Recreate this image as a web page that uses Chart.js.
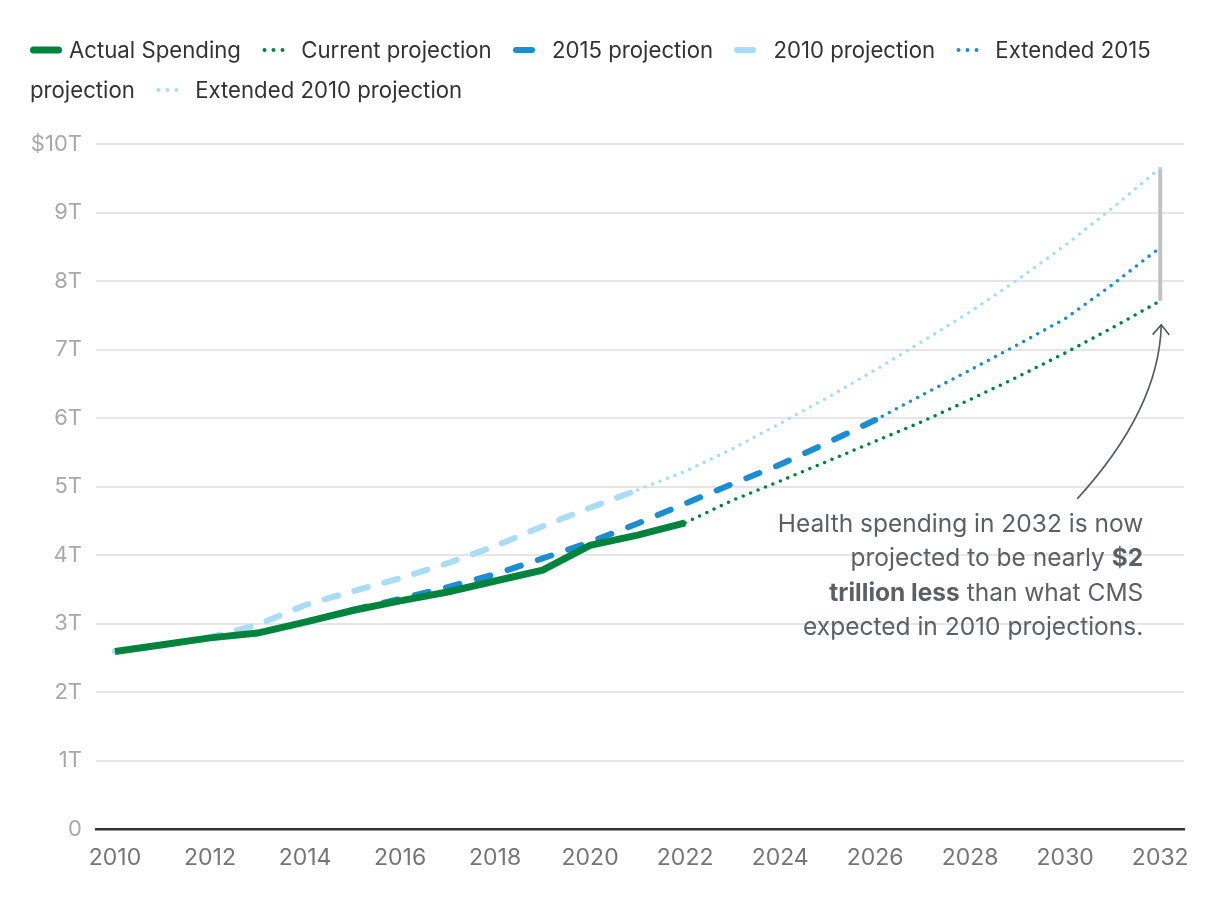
<!DOCTYPE html>
<html>
<head>
<meta charset="utf-8">
<script src="https://cdn.jsdelivr.net/npm/chart.js@4"></script>
<style>
html, body { margin: 0; padding: 0; background: #fff; }
#wrap { position: relative; width: 1220px; height: 900px; }
#chart { position: absolute; left: 0; top: 0; }
#legend { position: absolute; left: 30px; top: 30px; width: 1165px; font: 22.2px Inter, sans-serif; color: #333; line-height: 40px; }
#legend .item { margin-right: 15px; }
#legend svg { vertical-align: middle; margin-right: 7px; position: relative; top: -2px; }
</style>
</head>
<body>
<div id="wrap">
  <canvas id="chart" width="1220" height="900"></canvas>
  <div id="legend"></div>
</div>
<script>
// values in trillions of dollars
const actualYears = [2010, 2011, 2012, 2013, 2014, 2015, 2016, 2017, 2018, 2019, 2020, 2021, 2022];
const actualSpending = [2.59, 2.69, 2.79, 2.86, 3.02, 3.19, 3.33, 3.46, 3.62, 3.78, 4.14, 4.29, 4.47];

const currentYears = [2022, 2023, 2024, 2025, 2026, 2027, 2028, 2029, 2030, 2031, 2032];
const currentProjection = [4.47, 4.80, 5.08, 5.37, 5.66, 5.95, 6.27, 6.60, 6.95, 7.32, 7.71];

const proj2015Years = [2015, 2016, 2017, 2018, 2019, 2020, 2021, 2022, 2023, 2024, 2025, 2026];
const projection2015 = [3.20, 3.36, 3.53, 3.72, 3.95, 4.19, 4.46, 4.75, 5.04, 5.32, 5.64, 5.97];

const proj2010Years = [2010, 2011, 2012, 2013, 2014, 2015, 2016, 2017, 2018, 2019, 2020, 2021];
const projection2010 = [2.59, 2.69, 2.80, 2.98, 3.27, 3.47, 3.66, 3.88, 4.13, 4.42, 4.69, 4.95];

const ext2015Years = [2026, 2027, 2028, 2029, 2030, 2031, 2032];
const extended2015 = [5.97, 6.34, 6.70, 7.07, 7.45, 7.95, 8.49];

const ext2010Years = [2021, 2022, 2023, 2024, 2025, 2026, 2027, 2028, 2029, 2030, 2031, 2032];
const extended2010 = [4.95, 5.22, 5.55, 5.92, 6.30, 6.70, 7.12, 7.55, 8.02, 8.52, 9.07, 9.65];

const xTickYears = [2010, 2012, 2014, 2016, 2018, 2020, 2022, 2024, 2026, 2028, 2030, 2032];
const yTickValues = [0, 1, 2, 3, 4, 5, 6, 7, 8, 9, 10];

const annotationLines = [
  [['Health spending in 2032 is now', false]],
  [['projected to be nearly ', false], ['$2', true]],
  [['trillion less', true], [' than what CMS', false]],
  [['expected in 2010 projections.', false]]
];

const GREEN = '#00843d';
const BLUE = '#1a8ed0';
const LIGHT = '#a9dcf5';
const FONT = 'Inter, sans-serif';

function pts(xs, ys){ return xs.map((x, i) => ({ x, y: ys[i] })); }

function line(label, xs, ys, color, width, dash){
  return {
    label, data: pts(xs, ys),
    borderColor: color, backgroundColor: color,
    borderWidth: width, borderDash: dash,
    borderCapStyle: dash.length ? 'round' : 'butt',
    pointRadius: 0, tension: 0, fill: false
  };
}

// grey bracket at 2032 between the 2010 extension and the current projection
const gapBar = {
  id: 'gapBar',
  beforeDatasetsDraw(chart){
    const { ctx, scales: { x, y } } = chart;
    const px = x.getPixelForValue(2032);
    ctx.save();
    ctx.strokeStyle = '#c2c2c2';
    ctx.lineWidth = 4;
    ctx.beginPath();
    ctx.moveTo(px, y.getPixelForValue(extended2010[extended2010.length - 1]));
    ctx.lineTo(px, y.getPixelForValue(currentProjection[currentProjection.length - 1]));
    ctx.stroke();
    ctx.restore();
  }
};

const note = {
  id: 'note',
  afterDatasetsDraw(chart){
    const { ctx, scales: { x, y } } = chart;
    const tipX = x.getPixelForValue(2032) + 1;
    const tipY = y.getPixelForValue(currentProjection[currentProjection.length - 1]) + 24;
    ctx.save();
    // curved arrow
    ctx.strokeStyle = '#555a5e';
    ctx.lineWidth = 1.6;
    const p0 = { x: tipX - 84, y: tipY + 174 };
    const p1 = { x: tipX - 2, y: tipY + 84 };
    ctx.beginPath();
    ctx.moveTo(p0.x, p0.y);
    ctx.quadraticCurveTo(p1.x, p1.y, tipX, tipY);
    ctx.stroke();
    const ang = Math.atan2(tipY - p1.y, tipX - p1.x);
    const len = 13, spread = 0.7;
    ctx.beginPath();
    ctx.moveTo(tipX - len * Math.cos(ang - spread), tipY - len * Math.sin(ang - spread));
    ctx.lineTo(tipX, tipY);
    ctx.lineTo(tipX - len * Math.cos(ang + spread), tipY - len * Math.sin(ang + spread));
    ctx.stroke();

    // text, right aligned
    const right = x.getPixelForValue(2032) - 17;
    let cy = y.getPixelForValue(4.45);
    ctx.fillStyle = '#5b6064';
    ctx.textBaseline = 'middle';
    ctx.textAlign = 'left';
    for (const parts of annotationLines){
      let w = 0;
      const widths = parts.map(([t, b]) => {
        ctx.font = (b ? 'bold ' : '') + '24.5px ' + FONT;
        const m = ctx.measureText(t).width; w += m; return m;
      });
      let cx = right - w;
      parts.forEach(([t, b], i) => {
        ctx.font = (b ? 'bold ' : '') + '24.5px ' + FONT;
        ctx.fillText(t, cx, cy);
        cx += widths[i];
      });
      cy += 34.5;
    }
    ctx.restore();
  }
};

const chart = new Chart(document.getElementById('chart'), {
  type: 'line',
  data: {
    datasets: [
      line('Actual Spending', actualYears, actualSpending, GREEN, 7, []),
      line('Current projection', currentYears, currentProjection, GREEN, 3.6, [0, 8]),
      line('2015 projection', proj2015Years, projection2015, BLUE, 6, [14, 18]),
      line('2010 projection', proj2010Years, projection2010, LIGHT, 6, [14, 17]),
      line('Extended 2015 projection', ext2015Years, extended2015, BLUE, 3.6, [0, 8]),
      line('Extended 2010 projection', ext2010Years, extended2010, LIGHT, 3.6, [0, 8])
    ]
  },
  options: {
    responsive: false,
    animation: false,
    layout: { padding: { left: 0, right: 36, top: 144, bottom: 0 } },
    plugins: { legend: { display: false }, tooltip: { enabled: false } },
    scales: {
      x: {
        type: 'linear', min: 2009.6, max: 2032.5,
        afterBuildTicks: s => { s.ticks = xTickYears.map(v => ({ value: v })); },
        afterFit: s => { s.height = 71; },
        grid: { display: false, drawTicks: false },
        border: { display: true, color: '#333', width: 2.5 },
        ticks: { padding: 15, color: '#757575', font: { family: FONT, size: 23 }, maxRotation: 0, autoSkip: false, callback: v => String(v) }
      },
      y: {
        min: 0, max: 10,
        afterBuildTicks: s => { s.ticks = yTickValues.map(v => ({ value: v })); },
        afterFit: s => { s.width = 96; },
        grid: { color: '#e6e6e6', lineWidth: 2, drawTicks: false },
        border: { display: false },
        ticks: { padding: 14, color: '#a8a8a8', font: { family: FONT, size: 22 },
          callback: v => v === 0 ? '0' : (v === 10 ? '$10T' : v + 'T') }
      }
    }
  },
  plugins: [gapBar, note]
});

// html legend built from the datasets
const NS = 'http://www.w3.org/2000/svg';
const legendEl = document.getElementById('legend');
chart.data.datasets.forEach((ds, i) => {
  const item = document.createElement('span');
  item.className = 'item';
  const svg = document.createElementNS(NS, 'svg');
  svg.setAttribute('width', 32); svg.setAttribute('height', 12);
  const l = document.createElementNS(NS, 'line');
  l.setAttribute('y1', 6); l.setAttribute('y2', 6);
  l.setAttribute('stroke', ds.borderColor);
  l.setAttribute('stroke-linecap', 'round');
  if (!ds.borderDash.length){
    l.setAttribute('x1', 3.5); l.setAttribute('x2', 28.5); l.setAttribute('stroke-width', 7);
  } else if (ds.borderDash[0] === 0){
    l.setAttribute('x1', 2.5); l.setAttribute('x2', 29.5); l.setAttribute('stroke-width', 4);
    l.setAttribute('stroke-dasharray', '0 9');
  } else {
    l.setAttribute('x1', 3); l.setAttribute('x2', 19); l.setAttribute('stroke-width', 6);
  }
  svg.appendChild(l);
  item.appendChild(svg);
  item.appendChild(document.createTextNode(ds.label));
  legendEl.appendChild(item);
  legendEl.appendChild(document.createTextNode(' '));
});
</script>
</body>
</html>
